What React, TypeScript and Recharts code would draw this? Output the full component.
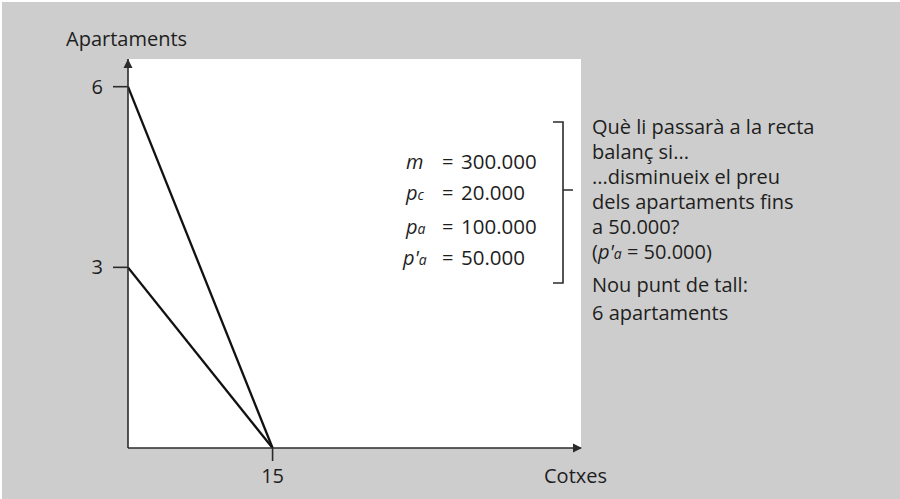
import React from 'react';
import { LineChart, Line, XAxis, YAxis, CartesianGrid, ReferenceDot } from 'recharts';

// Budget lines: cars (x) vs apartments (y)
const originalBudget = [
  { cotxes: 0, apartaments: 3 },
  { cotxes: 15, apartaments: 0 },
];
const newBudget = [
  { cotxes: 0, apartaments: 6 },
  { cotxes: 15, apartaments: 0 },
];
const xTicks = [15];
const yTicks = [3, 6];
const xMax = 47;
const yMax = 6.46;

const FONT = '"Open Sans", "Noto Sans", sans-serif';
const INK = '#1e1e1e';
const AXIS = '#2b2b2b';

const ArrowRight = (props: any) => {
  const { cx, cy } = props;
  return <path d={`M${cx + 1},${cy} L${cx - 8},${cy - 4.5} L${cx - 8},${cy + 4.5} Z`} fill={AXIS} />;
};
const ArrowUp = (props: any) => {
  const { cx, cy } = props;
  return <path d={`M${cx},${cy} L${cx - 4.5},${cy + 9} L${cx + 4.5},${cy + 9} Z`} fill={AXIS} />;
};

const formula = [
  { sym: 'm', sub: '', prime: false, value: '300.000', y: 169 },
  { sym: 'p', sub: 'c', prime: false, value: '20.000', y: 200 },
  { sym: 'p', sub: 'a', prime: false, value: '100.000', y: 234 },
  { sym: 'p', sub: 'a', prime: true, value: '50.000', y: 265 },
];

const notes = [
  'Què li passarà a la recta',
  'balanç si...',
  '...disminueix el preu',
  'dels apartaments fins',
  'a 50.000?',
];

export default function App() {
  return (
    <div style={{ position: 'absolute', left: 0, top: 0, width: 900, height: 499, background: '#ffffff' }}>
      <div style={{ position: 'absolute', left: 2, top: 2, width: 898, height: 497, background: '#cdcdcd' }} />
      <div style={{ position: 'absolute', left: 0, top: 0 }}>
        <LineChart width={900} height={499} margin={{ top: 59, right: 319, bottom: 0, left: 0 }}>
          <CartesianGrid horizontal={false} vertical={false} fill="#ffffff" stroke="none" />
          <XAxis
            type="number"
            dataKey="cotxes"
            domain={[0, xMax]}
            ticks={xTicks}
            allowDataOverflow
            axisLine={{ stroke: AXIS, strokeWidth: 1.6 }}
            tickLine={{ stroke: AXIS, strokeWidth: 1.6 }}
            tickSize={13}
            tickMargin={8}
            tick={{ fill: INK, fontSize: 20, fontFamily: FONT }}
            height={51}
          />
          <YAxis
            type="number"
            dataKey="apartaments"
            domain={[0, yMax]}
            ticks={yTicks}
            allowDataOverflow
            axisLine={{ stroke: AXIS, strokeWidth: 1.6 }}
            tickLine={{ stroke: AXIS, strokeWidth: 1.6 }}
            tickSize={15}
            tickMargin={10}
            tick={{ fill: INK, fontSize: 20, fontFamily: FONT }}
            width={128}
          />
          <Line
            data={newBudget}
            dataKey="apartaments"
            stroke="#111111"
            strokeWidth={2.3}
            dot={false}
            isAnimationActive={false}
          />
          <Line
            data={originalBudget}
            dataKey="apartaments"
            stroke="#111111"
            strokeWidth={2.3}
            dot={false}
            isAnimationActive={false}
          />
          <ReferenceDot x={xMax} y={0} r={0} ifOverflow="visible" shape={ArrowRight} />
          <ReferenceDot x={0} y={yMax} r={0} ifOverflow="visible" shape={ArrowUp} />
        </LineChart>
      </div>
      <svg
        width={900}
        height={499}
        style={{ position: 'absolute', left: 0, top: 0, pointerEvents: 'none' }}
        fontFamily={FONT}
        fill={INK}
      >
        <text x={66} y={46} fontSize={20}>Apartaments</text>
        <text x={544} y={483} fontSize={20}>Cotxes</text>

        {formula.map((f, i) => (
          <g key={i}>
            <text x={f.prime ? 403 : 406} y={f.y} fontSize={20} fontStyle="italic">
              {f.sym}
              {f.prime ? "'" : ''}
              {f.sub ? <tspan fontSize={14}>{f.sub}</tspan> : null}
            </text>
            <text x={442} y={f.y} fontSize={20}>=</text>
            <text x={461} y={f.y} fontSize={20.5}>{f.value}</text>
          </g>
        ))}

        <path d="M553,122 L563,122 L563,283 L553,283 M563,190 L573,190" stroke={AXIS} strokeWidth={1.6} fill="none" />

        {notes.map((t, i) => (
          <text key={i} x={592} y={134 + i * 25} fontSize={20}>{t}</text>
        ))}
        <text x={592} y={259} fontSize={20}>
          (<tspan fontStyle="italic">p'</tspan>
          <tspan fontStyle="italic" fontSize={14}>a</tspan> = 50.000)
        </text>
        <text x={592} y={292} fontSize={20}>Nou punt de tall:</text>
        <text x={592} y={320} fontSize={20}>6 apartaments</text>
      </svg>
    </div>
  );
}
